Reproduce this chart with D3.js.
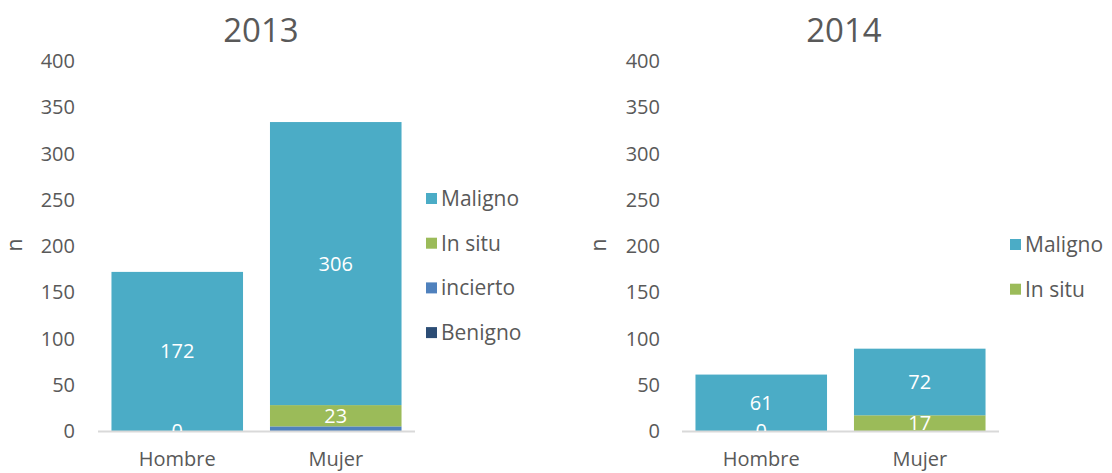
<!DOCTYPE html>
<html>
<head>
<meta charset="utf-8">
<script src="https://cdn.jsdelivr.net/npm/d3@7"></script>
<style>
  body { margin: 0; background: #fff; }
  svg text { font-family: "Open Sans", "Noto Sans", sans-serif; }
</style>
</head>
<body>
<div id="canvas"></div>
<script>
// categories and series
var categories = ["Hombre", "Mujer"];
var yTicks = [0, 50, 100, 150, 200, 250, 300, 350, 400];

var series2013 = ["Benigno", "incierto", "In situ", "Maligno"];
var benigno2013 = [0, 0];
var incierto2013 = [0, 5];
var insitu2013 = [0, 23];
var maligno2013 = [172, 306];

var series2014 = ["In situ", "Maligno"];
var insitu2014 = [0, 17];
var maligno2014 = [61, 72];

var colors = { "Maligno": "#4BACC6", "In situ": "#9BBB59", "incierto": "#4F81BD", "Benigno": "#2C4D75" };

var width = 1112, height = 473;
var svg = d3.select("#canvas").append("svg")
  .attr("width", width)
  .attr("height", height);

function drawChart(opt) {
  var g = svg.append("g");
  var x = d3.scaleBand().domain(categories).range([opt.x0, opt.x1]).paddingInner(0.17).paddingOuter(0.085);
  var y = d3.scaleLinear().domain([0, 400]).range([431, 61]);

  // title
  g.append("text")
    .attr("x", opt.titleX).attr("y", 42)
    .attr("text-anchor", "middle")
    .attr("font-size", 33).attr("fill", "#595959")
    .text(opt.title);

  // y axis labels
  g.selectAll(".ytick").data(yTicks).enter().append("text")
    .attr("x", opt.labelX).attr("y", function (d) { return y(d) + 7; })
    .attr("text-anchor", "end")
    .attr("font-size", 20).attr("fill", "#595959")
    .text(function (d) { return d; });

  // axis title
  g.append("text")
    .attr("transform", "translate(" + (opt.nX) + ",245) rotate(-90)")
    .attr("text-anchor", "middle")
    .attr("font-size", 21).attr("fill", "#595959")
    .text("n");

  // stacked data
  var rows = categories.map(function (c, i) {
    var r = { cat: c };
    opt.series.forEach(function (s) { r[s] = opt.values[s][i]; });
    return r;
  });
  var stack = d3.stack().keys(opt.series)(rows);

  var clipId = "clip" + opt.title;
  svg.append("clipPath").attr("id", clipId)
    .append("rect").attr("x", opt.x0).attr("y", 0).attr("width", opt.x1 - opt.x0).attr("height", 431);

  var layers = g.selectAll(".layer").data(stack).enter().append("g")
    .attr("fill", function (d) { return colors[d.key]; });

  layers.selectAll("rect").data(function (d) { return d; }).enter().append("rect")
    .attr("x", function (d) { return x(d.data.cat); })
    .attr("width", x.bandwidth())
    .attr("y", function (d) { return y(d[1]); })
    .attr("height", function (d) { return y(d[0]) - y(d[1]); });

  // baseline
  g.append("line")
    .attr("x1", opt.x0).attr("x2", opt.x1)
    .attr("y1", y(0) + 0.5).attr("y2", y(0) + 0.5)
    .attr("stroke", "#D9D9D9").attr("stroke-width", 2);

  // data labels (only In situ and Maligno carry labels)
  var labels = g.append("g").attr("clip-path", "url(#" + clipId + ")");
  stack.forEach(function (layer) {
    if (opt.labeled.indexOf(layer.key) < 0) return;
    layer.forEach(function (d) {
      labels.append("text")
        .attr("x", x(d.data.cat) + x.bandwidth() / 2)
        .attr("y", y((d[0] + d[1]) / 2) + 7)
        .attr("text-anchor", "middle")
        .attr("font-size", 20).attr("fill", "#fff")
        .text(d[1] - d[0]);
    });
  });

  // category labels
  g.selectAll(".xlab").data(categories).enter().append("text")
    .attr("x", function (d) { return x(d) + x.bandwidth() / 2; })
    .attr("y", 466)
    .attr("text-anchor", "middle")
    .attr("font-size", 20).attr("fill", "#595959")
    .text(function (d) { return d; });

  // legend
  var leg = opt.series.slice().reverse();
  var li = g.selectAll(".leg").data(leg).enter().append("g")
    .attr("transform", function (d, i) { return "translate(" + opt.legX + "," + (opt.legY + i * 44.7) + ")"; });
  li.append("rect").attr("x", 0).attr("y", -6).attr("width", 11).attr("height", 11)
    .attr("fill", function (d) { return colors[d]; });
  li.append("text").attr("x", 15).attr("y", 7)
    .attr("font-size", 21).attr("fill", "#595959")
    .text(function (d) { return d; });
}

drawChart({
  title: "2013", titleX: 261, x0: 98, x1: 415, labelX: 75, nX: 22,
  series: series2013,
  values: { "Benigno": benigno2013, "incierto": incierto2013, "In situ": insitu2013, "Maligno": maligno2013 },
  labeled: ["In situ", "Maligno"],
  legX: 426, legY: 199
});

drawChart({
  title: "2014", titleX: 844, x0: 682, x1: 999, labelX: 660, nX: 606,
  series: series2014,
  values: { "In situ": insitu2014, "Maligno": maligno2014 },
  labeled: ["In situ", "Maligno"],
  legX: 1010, legY: 245
});
</script>
</body>
</html>
